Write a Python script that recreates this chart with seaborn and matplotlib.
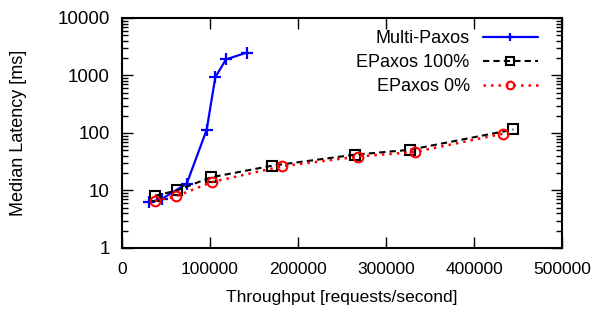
import matplotlib
matplotlib.use('Agg')
import matplotlib.pyplot as plt
import matplotlib.ticker as mticker
import seaborn as sns

# Dados
mp_tput = [31000, 45000, 73500, 96200, 106000, 118000, 141700]
mp_lat = [6.2, 7.1, 13.1, 114, 930, 1900, 2500]

ep100_tput = [37500, 62100, 100800, 170500, 264800, 327000, 444700]
ep100_lat = [8.1, 10.0, 16.9, 27, 42, 51, 115]

ep0_tput = [37500, 61400, 101900, 181400, 268600, 333000, 433300]
ep0_lat = [6.6, 7.9, 14.0, 26.3, 39, 46.8, 97.6]

x_ticks = [0, 100000, 200000, 300000, 400000, 500000]
y_ticks = [1, 10, 100, 1000, 10000]

sns.set_style('ticks')
plt.rcParams['font.family'] = ['Liberation Sans', 'DejaVu Sans']
plt.rcParams.update({'text.color': 'black', 'axes.labelcolor': 'black',
                     'xtick.color': 'black', 'ytick.color': 'black',
                     'axes.edgecolor': 'black'})

fig = plt.figure(figsize=(6.07, 3.10), dpi=100)
ax = fig.add_axes([0.201, 0.2, 0.725, 0.742])

sns.lineplot(x=mp_tput, y=mp_lat, ax=ax, sort=False, estimator=None,
             color='#0000ff', linestyle='-', linewidth=1.6, marker='+',
             markersize=8, markeredgewidth=1.6, markeredgecolor='#0000ff',
             label='Multi-Paxos')
sns.lineplot(x=ep100_tput, y=ep100_lat, ax=ax, sort=False, estimator=None,
             color='black', linestyle=(0, (3, 2)), linewidth=1.5, marker='s',
             markersize=6.5, markerfacecolor='none', markeredgecolor='black',
             markeredgewidth=1.5, label='EPaxos 100%')
sns.lineplot(x=ep0_tput, y=ep0_lat, ax=ax, sort=False, estimator=None,
             color='#ff0000', linestyle=(0, (1, 2)), linewidth=1.8, marker='o',
             markersize=7, markerfacecolor='none', markeredgecolor='#ff0000',
             markeredgewidth=1.5, label='EPaxos 0%')

ax.set_yscale('log')
ax.set_xlim(0, 500000)
ax.set_ylim(1, 10000)
ax.xaxis.set_major_locator(mticker.FixedLocator(x_ticks))
ax.xaxis.set_major_formatter(mticker.FuncFormatter(lambda v, p: '%d' % v))
ax.yaxis.set_major_locator(mticker.FixedLocator(y_ticks))
ax.yaxis.set_major_formatter(mticker.FuncFormatter(lambda v, p: '%d' % v))
ax.yaxis.set_minor_locator(mticker.LogLocator(base=10, subs=range(2, 10)))
ax.yaxis.set_minor_formatter(mticker.NullFormatter())

ax.tick_params(axis='both', which='major', direction='in', length=8, width=1,
               top=True, right=True)
ax.tick_params(axis='x', which='major', labelsize=12.5, pad=10)
ax.tick_params(axis='y', which='major', labelsize=13.5, pad=9)
ax.tick_params(axis='y', which='minor', direction='in', length=4, width=1,
               left=True, right=True)
for s in ax.spines.values():
    s.set_linewidth(1.5)

ax.set_xlabel('Throughput [requests/second]', fontsize=12.5)
ax.set_ylabel('Median Latency [ms]', fontsize=13)
ax.xaxis.set_label_coords(0.5, -0.217)
ax.xaxis.label.set_verticalalignment('center')
ax.yaxis.set_label_coords(-0.236, 0.5)
ax.yaxis.label.set_verticalalignment('center')

leg = ax.legend(loc='upper right', bbox_to_anchor=(0.961, 0.978), borderaxespad=0,
                frameon=False, markerfirst=False, numpoints=1, fontsize=13,
                handlelength=3.05, handletextpad=0.72, labelspacing=0.38)
for h in leg.legend_handles:
    h.set_markersize(5.5)

fig.savefig('out.png', dpi=100)
